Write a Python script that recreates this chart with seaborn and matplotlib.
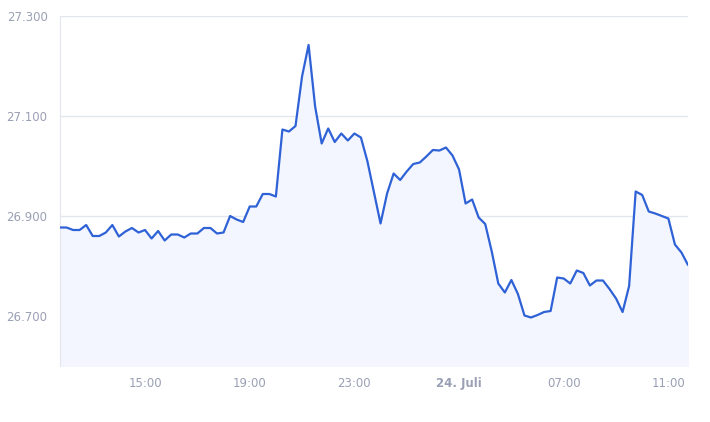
import matplotlib
matplotlib.use("Agg")
import matplotlib.pyplot as plt
import seaborn as sns
import pandas as pd
import numpy as np
import matplotlib.dates as mdates

values = [26.877,26.877,26.872,26.872,26.882,26.860,26.860,26.867,26.882,26.859,
          26.869,26.876,26.867,26.872,26.855,26.870,26.851,26.863,26.863,26.857,
          26.865,26.865,26.876,26.876,26.865,26.867,26.900,26.893,26.888,26.919,
          26.919,26.944,26.944,26.939,27.073,27.069,27.080,27.179,27.242,27.119,
          27.045,27.075,27.048,27.065,27.051,27.065,27.057,27.009,26.947,26.885,
          26.945,26.985,26.972,26.989,27.004,27.007,27.019,27.032,27.031,27.037,
          27.021,26.993,26.925,26.933,26.897,26.884,26.829,26.765,26.747,26.772,
          26.744,26.701,26.697,26.702,26.708,26.710,26.777,26.775,26.765,26.791,
          26.786,26.761,26.771,26.771,26.754,26.735,26.708,26.760,26.949,26.942,
          26.909,26.905,26.900,26.895,26.843,26.827,26.802]
start = "2023-07-23 11:45"
times = pd.date_range(start, periods=len(values), freq="15min")
df = pd.DataFrame({"t": times, "v": values})
tick_times = pd.to_datetime(["2023-07-23 15:00","2023-07-23 19:00","2023-07-23 23:00",
                             "2023-07-24 03:00","2023-07-24 07:00","2023-07-24 11:00"])
tick_labels = ["15:00","19:00","23:00","24. Juli","07:00","11:00"]
yticks = [26.7, 26.9, 27.1, 27.3]
ylabels = ["26.700","26.900","27.100","27.300"]

sns.set_style("white")
fig = plt.figure(figsize=(7.1, 4.22), dpi=100)
ax = fig.add_axes([60/710, 56/422, 628/710, 350/422])
ax.fill_between(df["t"], df["v"], 26.6, color="#f3f6fe", zorder=1)
sns.lineplot(data=df, x="t", y="v", ax=ax, color="#2f62d6", linewidth=1.6, zorder=3)
ax.set_xlim(times[0], times[-1])
ax.set_ylim(26.6, 27.3)
ax.set_yticks(yticks)
ax.set_yticklabels(ylabels)
ax.set_xticks(tick_times)
ax.set_xticklabels(tick_labels)
for lab in ax.get_xticklabels():
    if lab.get_text() == "24. Juli":
        lab.set_fontweight("bold")
ax.tick_params(axis="both", length=0, labelsize=8.5, colors="#9aa0b4")
ax.tick_params(axis="x", pad=8)
ax.tick_params(axis="y", pad=9)
ax.grid(axis="y", color="#e4e6ef", linewidth=1)
ax.set_axisbelow(True)
for s in ["top", "right", "bottom"]:
    ax.spines[s].set_visible(False)
ax.spines["left"].set_color("#e4e6ef")
ax.set_xlabel("")
ax.set_ylabel("")
fig.savefig("out.png", dpi=100)
